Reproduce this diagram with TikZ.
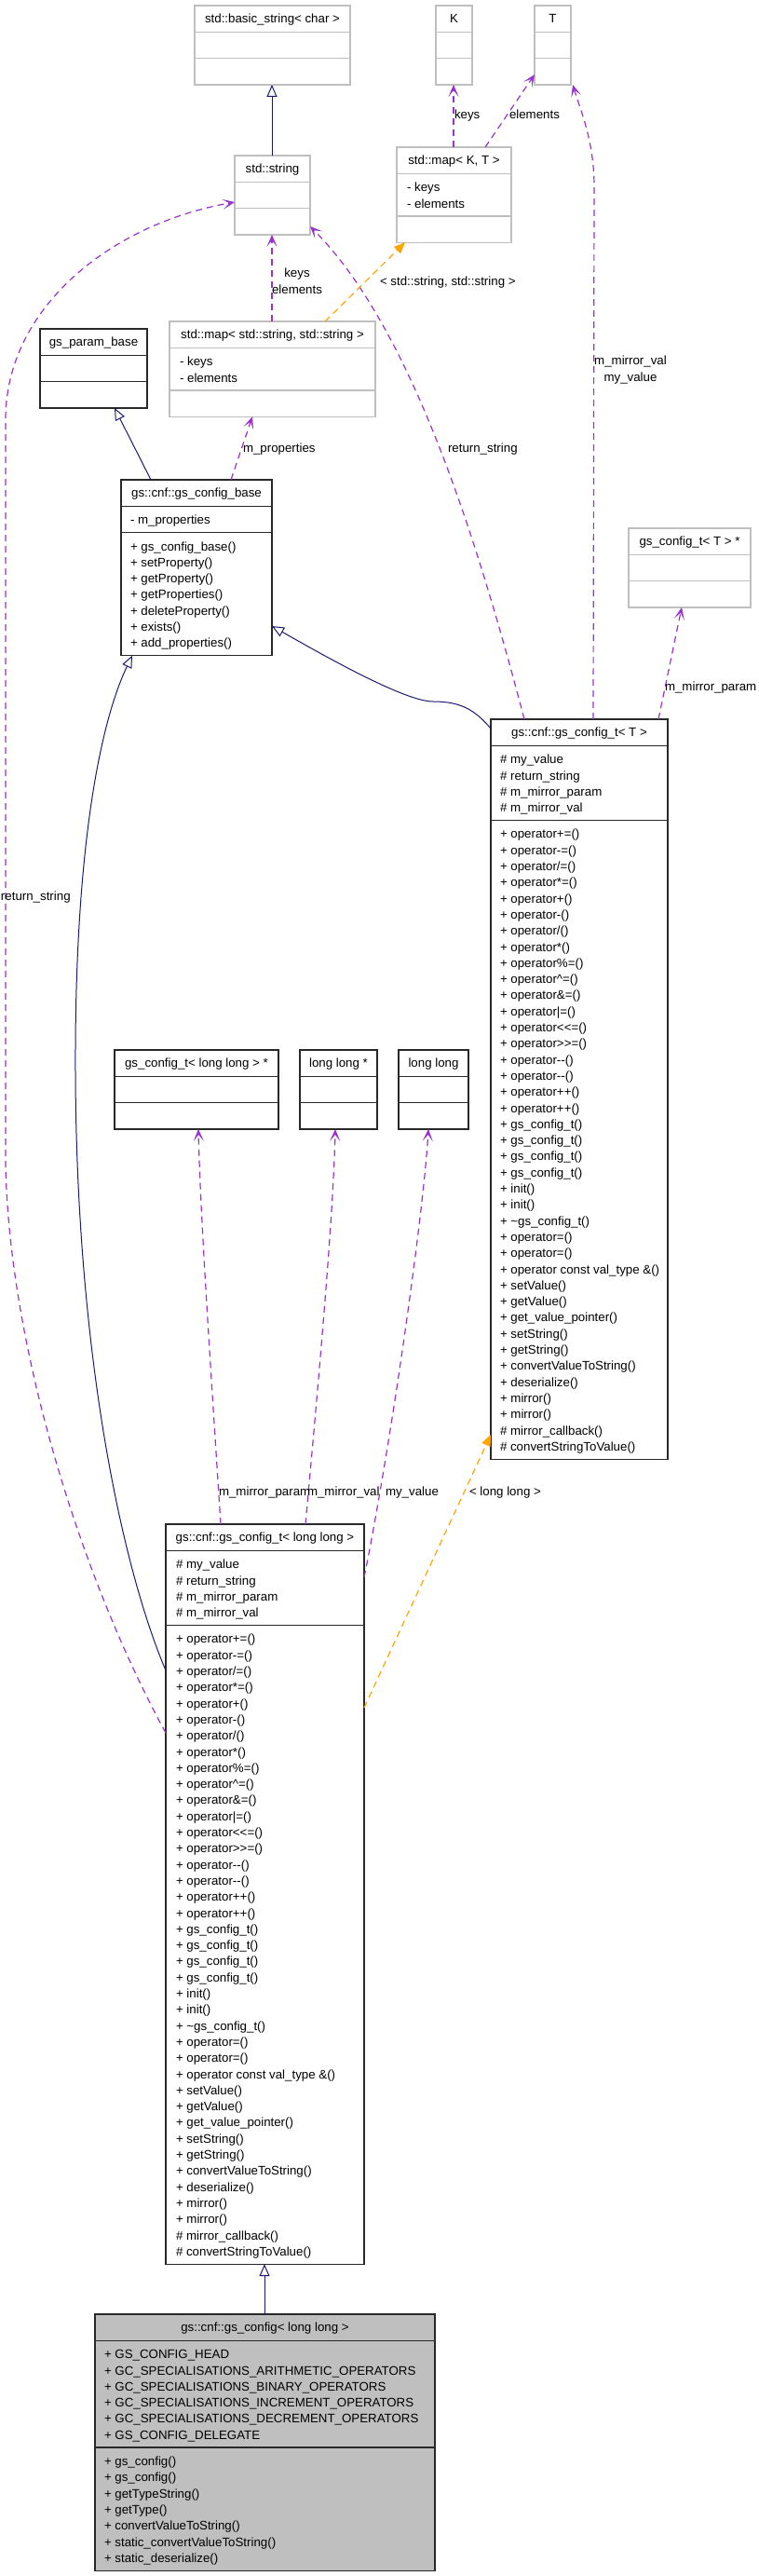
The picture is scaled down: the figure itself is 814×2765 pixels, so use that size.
\documentclass[tikz,border=0pt]{standalone}
\usepackage{fontspec}
\setmainfont{Liberation Sans}[Ligatures=TeXOff]
\usetikzlibrary{arrows.meta}
\definecolor{gline}{RGB}{191,191,191}
\definecolor{gfill}{RGB}{191,191,191}
\definecolor{upurple}{RGB}{154,50,205}
\definecolor{inavy}{RGB}{25,25,112}
\definecolor{torange}{RGB}{255,165,0}
\def\LS{17.3}
\tikzset{
  txt/.style={font=\fontsize{13.3pt}{16pt}\selectfont, inner sep=0pt, outer sep=0pt},
  gbox/.style={draw=gline, line width=1.3pt, inner sep=0pt, outer sep=0pt},
  gbox line/.style={draw=gline, line width=1.3pt},
  bbox/.style={draw={rgb,255:red,40;green,40;blue,40}, line width=1.3pt, inner sep=0pt, outer sep=0pt},
  bbox line/.style={draw={rgb,255:red,40;green,40;blue,40}, line width=1.3pt},
  fbox/.style={bbox, fill=gfill},
  fbox line/.style={bbox line},
  use/.style={draw=upurple, line width=1.2pt, dash pattern=on 7pt off 5pt,
    -{Stealth[length=13pt,width=11pt,inset=7pt]}},
  inh/.style={draw=inavy, line width=1pt,
    -{Triangle[open,length=13pt,width=11pt,fill=white]}},
  tmpl/.style={draw=torange, line width=1.2pt, dash pattern=on 7pt off 5pt,
    -{Triangle[length=12pt,width=10pt]}},
}
% #1 name, #2 style, #3 xl, #4 xr, #5 top, #6 header, #7 attr lines, #8 method lines
\newcommand\cbox[8]{%
  \pgfmathsetmacro\cbw{#4-#3}%
  \pgfmathsetmacro\cya{#5+28.3}%
  \pgfmathsetmacro\cyb{\cya+11+#7*\LS}%
  \pgfmathsetmacro\cyc{\cyb+11+#8*\LS}%
  \pgfmathsetmacro\cbh{\cyc-#5}%
  \pgfmathsetmacro\cxm{(#3+#4)/2}%
  \pgfmathsetmacro\cyh{#5+18.9}%
  \node[#2, minimum width=\cbw pt, minimum height=\cbh pt, anchor=north west] (#1) at (#3,#5) {};
  \draw[#2 line] (#3,\cya) -- (#4,\cya) (#3,\cyb) -- (#4,\cyb);
  \node[txt, anchor=base] (#1-h) at (\cxm,\cyh) {#6};
}
% #1 name prefix, #2 x, #3 section top, #4 list
\newcommand\mems[4]{%
  \foreach \mtext [count=\mi from 0] in {#4} {%
    \node[txt, anchor=base west] (#1-\mi) at (#2, {#3+19.4+\mi*\LS}) {\mtext};}%
}
\begin{document}
\begin{tikzpicture}[x=1pt,y=-1pt]
\fill[white] (0,0) rectangle (814,2765);
\useasboundingbox (0,0) rectangle (814,2765);

% ---------- boxes ----------
\cbox{bstr}{gbox}{209}{376}{6}{std::basic\_string< char >}{1}{1}
\cbox{K}{gbox}{468}{507}{6}{K}{1}{1}
\cbox{T}{gbox}{574}{613}{6}{T}{1}{1}
\cbox{sstr}{gbox}{252}{333}{167}{std::string}{1}{1}
\cbox{mapKT}{gbox}{426}{549}{158}{std::map< K, T >}{2}{1}
\mems{mapKT-a}{437}{\cya}{- keys,- elements}
\cbox{pbase}{bbox}{43}{158}{353}{gs\_param\_base}{1}{1}
\cbox{mapSS}{gbox}{182}{403}{345}{std::map< std::string, std::string >}{2}{1}
\mems{mapSS-a}{193}{\cya}{- keys,- elements}
\cbox{cbase}{bbox}{130}{292}{515}{gs::cnf::gs\_config\_base}{1}{7}
\mems{cbase-a}{140}{\cya}{- m\_properties}
\mems{cbase-m}{140}{\cyb}{+ gs\_config\_base(),+ setProperty(),+ getProperty(),+ getProperties(),+ deleteProperty(),+ exists(),+ add\_properties()}
\cbox{cTp}{gbox}{675}{806}{567}{gs\_config\_t< T > *}{1}{1}
\cbox{cT}{bbox}{527}{717}{772}{gs::cnf::gs\_config\_t< T >}{4}{39}
\mems{cT-a}{537}{\cya}{\# my\_value,\# return\_string,\# m\_mirror\_param,\# m\_mirror\_val}
\mems{cT-m}{537}{\cyb}{+ operator+=(),+ operator-=(),+ operator/=(),+ operator*=(),+ operator+(),+ operator-(),+ operator/(),+ operator*(),+ operator\%=(),+ operator\textasciicircum=(),+ operator\&=(),+ operator|=(),+ operator<<=(),+ operator>>=(),+ operator--(),+ operator--(),+ operator++(),+ operator++(),+ gs\_config\_t(),+ gs\_config\_t(),+ gs\_config\_t(),+ gs\_config\_t(),+ init(),+ init(),+ \textasciitilde gs\_config\_t(),+ operator=(),+ operator=(),+ operator const val\_type \&(),+ setValue(),+ getValue(),+ get\_value\_pointer(),+ setString(),+ getString(),+ convertValueToString(),+ deserialize(),+ mirror(),+ mirror(),\# mirror\_callback(),\# convertStringToValue()}
\cbox{cLLp}{bbox}{123}{299}{1127}{gs\_config\_t< long long > *}{1}{1}
\cbox{llp}{bbox}{322}{405}{1127}{long long *}{1}{1}
\cbox{ll}{bbox}{428}{503}{1127}{long long}{1}{1}
\cbox{cLL}{bbox}{178}{391}{1636}{gs::cnf::gs\_config\_t< long long >}{4}{39}
\mems{cLL-a}{189}{\cya}{\# my\_value,\# return\_string,\# m\_mirror\_param,\# m\_mirror\_val}
\mems{cLL-m}{189}{\cyb}{+ operator+=(),+ operator-=(),+ operator/=(),+ operator*=(),+ operator+(),+ operator-(),+ operator/(),+ operator*(),+ operator\%=(),+ operator\textasciicircum=(),+ operator\&=(),+ operator|=(),+ operator<<=(),+ operator>>=(),+ operator--(),+ operator--(),+ operator++(),+ operator++(),+ gs\_config\_t(),+ gs\_config\_t(),+ gs\_config\_t(),+ gs\_config\_t(),+ init(),+ init(),+ \textasciitilde gs\_config\_t(),+ operator=(),+ operator=(),+ operator const val\_type \&(),+ setValue(),+ getValue(),+ get\_value\_pointer(),+ setString(),+ getString(),+ convertValueToString(),+ deserialize(),+ mirror(),+ mirror(),\# mirror\_callback(),\# convertStringToValue()}
\cbox{cfg}{fbox}{102}{467}{2484}{gs::cnf::gs\_config< long long >}{6}{7}
\mems{cfg-a}{112}{\cya}{+ GS\_CONFIG\_HEAD,+ GC\_SPECIALISATIONS\_ARITHMETIC\_OPERATORS,+ GC\_SPECIALISATIONS\_BINARY\_OPERATORS,+ GC\_SPECIALISATIONS\_INCREMENT\_OPERATORS,+ GC\_SPECIALISATIONS\_DECREMENT\_OPERATORS,+ GS\_CONFIG\_DELEGATE}
\mems{cfg-m}{112}{\cyb}{+ gs\_config(),+ gs\_config(),+ getTypeString(),+ getType(),+ convertValueToString(),+ static\_convertValueToString(),+ static\_deserialize()}

% ---------- connectors ----------
\draw[inh] (292,0 |- sstr.north) -- (292,0 |- bstr.south);
\draw[use] (487,0 |- mapKT.north) -- (487,0 |- K.south);
\node[txt, anchor=base west] (lkeys1) at (488,127.7) {keys};
\draw[use] (521,0 |- mapKT.north) -- (T.west |- 0,80);
\node[txt, anchor=base west] (lelem1) at (547,127.7) {elements};
\draw[use] (637,0 |- cT.north) -- (638,200) .. controls (638,150) and (622,115) .. (615,0 |- T.south);
\node[txt, anchor=base] (lmv1) at (677,391.7) {m\_mirror\_val};
\node[txt, anchor=base] (lmv2) at (677,409) {my\_value};
\draw[use] (563,0 |- cT.north) .. controls (510,570) and (440,350) .. (sstr.east |- 0,243);
\node[txt, anchor=base west] (lret1) at (481,485.7) {return\_string};
\draw[use] (292,0 |- mapSS.north) -- (292,0 |- sstr.south);
\node[txt, anchor=base] (lkeys2) at (319,297.7) {keys};
\node[txt, anchor=base] (lelem2) at (319,315) {elements};
\draw[tmpl] (349,0 |- mapSS.north) -- (435,0 |- mapKT.south);
\node[txt, anchor=base west] (lss) at (408,306.7) {< std::string, std::string >};
\draw[inh] (162,0 |- cbase.north) -- (123,0 |- pbase.south);
\draw[use] (248,0 |- cbase.north) -- (271,0 |- mapSS.south);
\node[txt, anchor=base west] (lprop) at (261,485.7) {m\_properties};
\draw[inh] (cT.west |- 0,782) .. controls (510,762) and (495,753) .. (465,753) .. controls (435,753) and (350,705) .. (cbase.east |- 0,672);
\draw[use] (707,0 |- cT.north) -- (732,0 |- cTp.south);
\node[txt, anchor=base west] (lmp1) at (714,741.7) {m\_mirror\_param};
\draw[inh] (cLL.west |- 0,1793) .. controls (130,1680) and (82,1450) .. (81,1150) .. controls (80,900) and (110,770) .. (142,0 |- cbase.south);
\draw[use] (cLL.west |- 0,1860) .. controls (90,1700) and (10,1450) .. (6,1250) -- (6,450) .. controls (6,330) and (120,240) .. (sstr.west |- 0,217);
\node[txt, anchor=base west] (lret2) at (1,966.7) {return\_string};
\draw[use] (237,0 |- cLL.north) .. controls (225,1450) and (215,1300) .. (213,0 |- cLLp.south);
\node[txt, anchor=base west] (lmp2) at (235,1605.7) {m\_mirror\_param};
\draw[use] (328,0 |- cLL.north) .. controls (345,1450) and (358,1300) .. (360,0 |- llp.south);
\node[txt, anchor=base west] (lmv3) at (330,1605.7) {m\_mirror\_val};
\draw[use] (cLL.east |- 0,1693) .. controls (420,1550) and (455,1300) .. (460,0 |- ll.south);
\node[txt, anchor=base west] (lmy3) at (414,1605.7) {my\_value};
\draw[tmpl] (cLL.east |- 0,1833) -- (cT.west |- 0,1540);
\node[txt, anchor=base west] (lll) at (504,1605.7) {< long long >};
\draw[inh] (284,0 |- cfg.north) -- (284,0 |- cLL.south);
\end{tikzpicture}
\end{document}
